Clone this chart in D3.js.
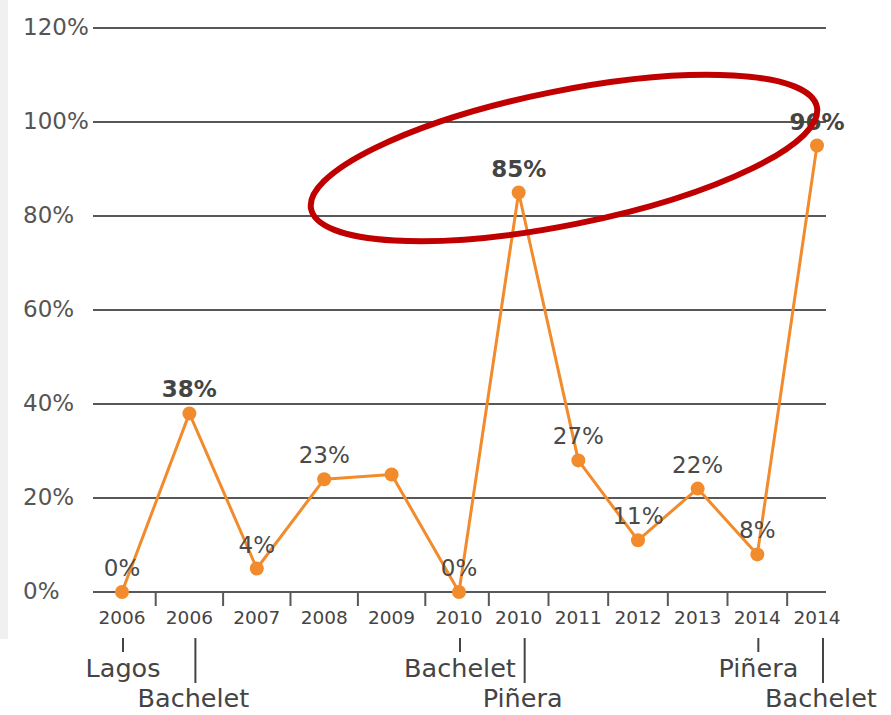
<!DOCTYPE html>
<html>
<head>
<meta charset="utf-8">
<script src="https://cdn.jsdelivr.net/npm/d3@7"></script>
<style>
  html, body { margin: 0; padding: 0; background: #ffffff; }
  svg { display: block; }
  text { font-family: "DejaVu Sans", sans-serif; }
</style>
</head>
<body>
<svg id="chart" width="891" height="715"></svg>
<script>
// ---- data ----
const categories = ["2006","2006","2007","2008","2009","2010","2010","2011","2012","2013","2014","2014"];
const values     = [0, 38, 5, 24, 25, 0, 85, 28, 11, 22, 8, 95];
const valueLabels = ["0%","38%","4%","23%","","0%","85%","27%","11%","22%","8%","96%"];
const boldLabels  = [false,true,false,false,false,false,true,false,false,false,false,true];
const yTicks = [0, 20, 40, 60, 80, 100, 120];
const presidentNames = ["Lagos","Bachelet","Bachelet","Piñera","Piñera","Bachelet"];
const presidentIndex = [0, 1, 5, 6, 10, 11];
const presidentRow   = [0, 1, 0, 1, 0, 1];

// ---- layout ----
const svg = d3.select("#chart");
const gridLeft = 93, gridRight = 826;
const x = d3.scaleLinear().domain([0, 5, 11]).range([122, 459, 817]);
const y = d3.scaleLinear().domain([0, 120]).range([592, 28]);
const gridColor = "#585858";
const orange = "#f28b2c";

// left grey strip
svg.append("rect").attr("x", 0).attr("y", 0).attr("width", 8).attr("height", 639).attr("fill", "#f0f0f0");

// gridlines
svg.append("g").selectAll("line").data(yTicks).join("line")
  .attr("x1", gridLeft).attr("x2", gridRight)
  .attr("y1", d => y(d)).attr("y2", d => y(d))
  .attr("stroke", gridColor).attr("stroke-width", 2);

// y tick labels
svg.append("g").selectAll("text").data(yTicks).join("text")
  .attr("x", 23).attr("y", d => y(d) - 1)
  .attr("dominant-baseline", "central")
  .attr("font-size", 23).attr("fill", "#555")
  .text(d => d + "%");

// x ticks between categories
const tickPos = d3.range(categories.length - 1).map(i => i + 0.5);
svg.append("g").selectAll("line").data(tickPos).join("line")
  .attr("x1", d => x(d)).attr("x2", d => x(d))
  .attr("y1", y(0)).attr("y2", y(0) + 14)
  .attr("stroke", gridColor).attr("stroke-width", 2);

// x labels
svg.append("g").selectAll("text").data(categories).join("text")
  .attr("x", (d, i) => x(i)).attr("y", 624)
  .attr("text-anchor", "middle")
  .attr("font-size", 18.5).attr("fill", "#444")
  .text(d => d);

// president annotations
const pres = presidentNames.map((n, k) => ({ name: n, i: presidentIndex[k], row: presidentRow[k] }));
const pg = svg.append("g");
pg.selectAll("line").data(pres).join("line")
  .attr("x1", d => x(d.i) + (d.row ? 6 : 1)).attr("x2", d => x(d.i) + (d.row ? 6 : 1))
  .attr("y1", 638).attr("y2", d => d.row ? 683 : 652)
  .attr("stroke", "#444").attr("stroke-width", 2);
pg.selectAll("text").data(pres).join("text")
  .attr("x", d => x(d.i) + (d.row ? 4 : 1)).attr("y", d => d.row ? 707 : 677)
  .attr("text-anchor", "middle")
  .attr("font-size", 25.5).attr("fill", "#444")
  .text(d => d.name);

// line
const line = d3.line().x((d, i) => x(i)).y(d => y(d));
svg.append("path").datum(values)
  .attr("d", line).attr("fill", "none")
  .attr("stroke", orange).attr("stroke-width", 3).attr("stroke-linejoin", "round");

// points
svg.append("g").selectAll("circle").data(values).join("circle")
  .attr("cx", (d, i) => x(i)).attr("cy", d => y(d)).attr("r", 7)
  .attr("fill", orange);

// value labels
svg.append("g").selectAll("text").data(values).join("text")
  .attr("x", (d, i) => x(i)).attr("y", d => y(d) - 16)
  .attr("text-anchor", "middle")
  .attr("font-size", 23)
  .attr("font-weight", (d, i) => boldLabels[i] ? "bold" : "normal")
  .attr("fill", (d, i) => boldLabels[i] ? "#444" : "#4a4a4a")
  .text((d, i) => valueLabels[i]);

// red highlight ellipse
svg.append("ellipse")
  .attr("cx", 0).attr("cy", 0).attr("rx", 258).attr("ry", 67)
  .attr("transform", "translate(564,158) rotate(-11.4)")
  .attr("fill", "none").attr("stroke", "#c00000").attr("stroke-width", 6);
</script>
</body>
</html>
